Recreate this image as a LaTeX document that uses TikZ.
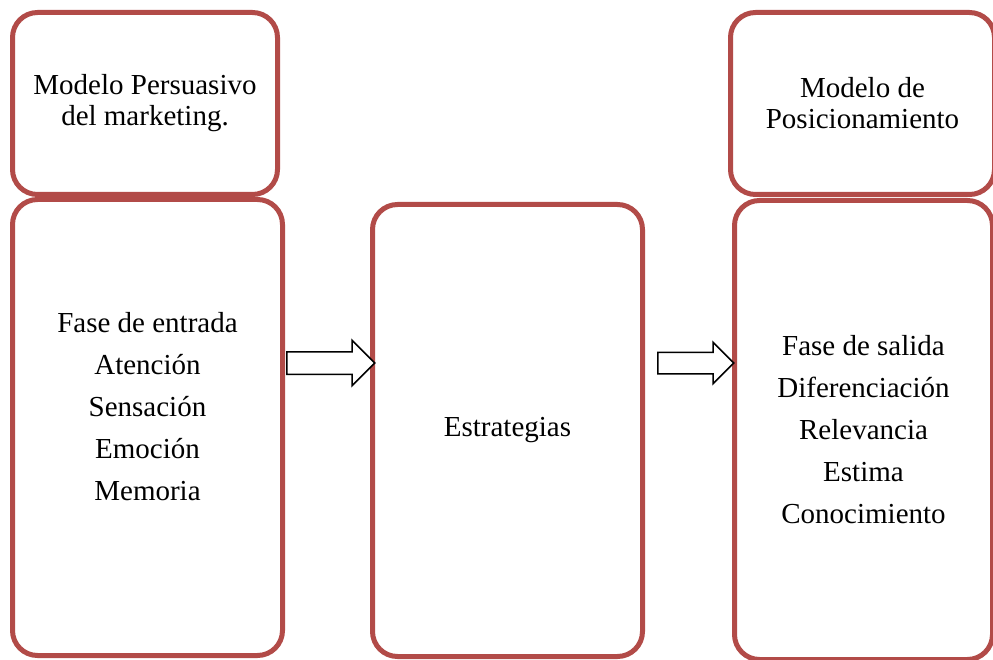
\documentclass[tikz,border=0pt]{standalone}
\usepackage{fontspec}
\setmainfont{Liberation Serif}
\usetikzlibrary{shapes.arrows}
\definecolor{borde}{RGB}{178,75,72}

\begin{document}
\begin{tikzpicture}[x=1pt, y=-1pt,
        caja/.style={draw=borde, line width=5pt, rounded corners=25pt, fill=white,
            align=center, font=\fontsize{29}{42}\selectfont},
        titulo/.style={caja, font=\fontsize{29}{31}\selectfont},
        flecha/.style={single arrow, draw=black, line width=1.5pt, fill=white,
            inner sep=0pt, inner ysep=10pt, single arrow head extend=10pt}]
    \useasboundingbox (0,0) rectangle (993,660);
    \begin{scope}
        \clip (0,0) rectangle (993,660);
        \node[titulo, minimum width=265pt, minimum height=182pt] (persuasivo) at (145,103.5)
            {Modelo Persuasivo\\del marketing.};
        \node[caja, minimum width=270pt, minimum height=456pt] (entrada) at (147.5,427.5)
            {Fase de entrada\\Atención\\Sensación\\Emoción\\Memoria\\\mbox{}};
        \node[caja, minimum width=270pt, minimum height=452pt] (estrategias) at (507.5,430.5)
            {Estrategias};
        \node[titulo, minimum width=264pt, minimum height=182pt] (posicionamiento) at (862.5,103.5)
            {Modelo de\\Posicionamiento};
        \node[caja, minimum width=258pt, minimum height=459pt] (salida) at (863.5,430)
            {Fase de salida\\Diferenciación\\Relevancia\\Estima\\Conocimiento};
        % flechas de bloque
        \node[flecha, inner ysep=10.5pt, single arrow head extend=11.5pt,
            minimum height=88pt, anchor=tail] (f1) at ([xshift=1pt]entrada.east |- 0,363) {};
        \node[flecha, minimum height=76pt, anchor=tail] (f2) at ([xshift=12pt]estrategias.east |- 0,363) {};
    \end{scope}
\end{tikzpicture}
\end{document}
